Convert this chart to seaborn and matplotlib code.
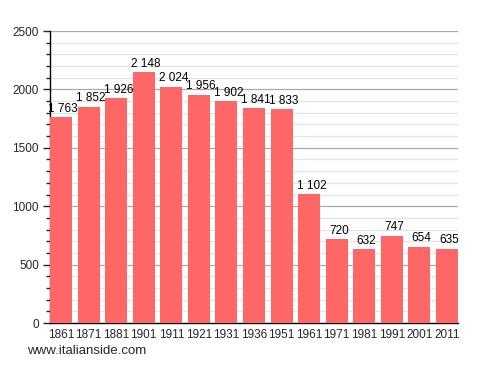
import matplotlib
matplotlib.use("Agg")
import matplotlib.pyplot as plt
import seaborn as sns
import pandas as pd
from matplotlib.ticker import MultipleLocator

years = ["1861", "1871", "1881", "1901", "1911", "1921", "1931", "1936",
         "1951", "1961", "1971", "1981", "1991", "2001", "2011"]
population = [1763, 1852, 1926, 2148, 2024, 1956, 1902, 1841,
              1833, 1102, 720, 632, 747, 654, 635]
labels = ["1 763", "1 852", "1 926", "2 148", "2 024", "1 956", "1 902", "1 841",
          "1 833", "1 102", "720", "632", "747", "654", "635"]

df = pd.DataFrame({"year": years, "pop": population})

sns.set_style("white")
plt.rcParams['font.family'] = ['Liberation Sans', 'DejaVu Sans']

fig = plt.figure(figsize=(4.88, 3.73), dpi=100)
ax = fig.add_axes([50/488, 1-323/373, 408/488, 292/373])

sns.barplot(data=df, x="year", y="pop", color="#FF6666", saturation=1,
            width=0.8, linewidth=0, ax=ax, zorder=3)

ax.set_ylim(0, 2500)
ax.set_xlim(-0.4, len(years) - 0.6)
ax.yaxis.set_major_locator(MultipleLocator(500))
ax.yaxis.set_minor_locator(MultipleLocator(100))
ax.grid(which="major", axis="y", color="#AAAAAA", linewidth=0.9, zorder=0)
ax.grid(which="minor", axis="y", color="#E3E3E3", linewidth=0.9, zorder=0)
ax.set_axisbelow(True)

for s in ["top", "right"]:
    ax.spines[s].set_visible(False)
for s in ["left", "bottom"]:
    ax.spines[s].set_color("black")
    ax.spines[s].set_linewidth(1)

ax.tick_params(axis="y", which="major", left=True, length=5, width=1, labelsize=8.5, pad=3)
ax.tick_params(axis="y", which="minor", left=True, length=3, width=1)
ax.tick_params(axis="x", bottom=False, labelsize=8.5, pad=1)
ax.set_xlabel("")
ax.set_ylabel("")

for i, (v, lab) in enumerate(zip(population, labels)):
    ax.text(i + 0.08, v + 20, lab, ha="center", va="bottom", fontsize=8.5, color="black")

fig.text(27/488, 1-351/373, "www.italianside.com", fontsize=9.5, ha="left", va="center")

fig.savefig("out.png", dpi=100)
